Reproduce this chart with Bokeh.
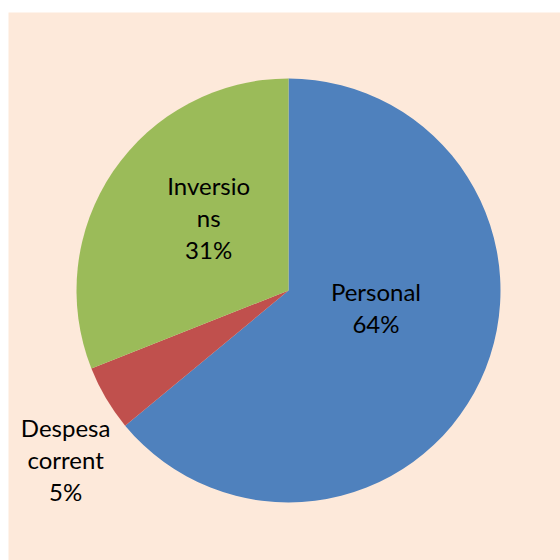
import math
from bokeh.plotting import figure
from bokeh.models import ColumnDataSource, Range1d
from bokeh.embed import file_html
from bokeh.resources import INLINE
from bokeh.core.properties import value

# Data
categories = ["Personal", "Despesa corrent", "Inversions"]
label_texts = ["Personal", "Despesa\ncorrent", "Inversio\nns"]
percents = [64, 5, 31]
colors = ["#4F81BD", "#C0504D", "#9BBB59"]
# label placement (polar: radius fraction, angle in degrees)
label_radius = [0.42, 1.32, 0.51]
label_angle = [-10.9, -142.8, 137.6]

total = sum(percents)
starts, ends = [], []
a = math.pi / 2
for v in percents:
    sweep = 2 * math.pi * v / total
    starts.append(a - sweep)
    ends.append(a)
    a -= sweep

src = ColumnDataSource(dict(start=starts, end=ends, color=colors, cat=categories))

W, H = 560, 560
left_border, top_border = 8, 12
frame_w = W - left_border
frame_h = H - top_border
scale = 212.0
cx_px, cy_px = 280.0, 278.0  # center within frame (from left, from top)

p = figure(width=W, height=H, output_backend="svg", toolbar_location=None,
           x_range=Range1d(-cx_px / scale, (frame_w - cx_px) / scale),
           y_range=Range1d(-(frame_h - cy_px) / scale, cy_px / scale),
           min_border_left=left_border, min_border_right=0, min_border_bottom=0,
           min_border_top=top_border)
p.axis.visible = False
p.grid.visible = False
p.outline_line_color = None
p.background_fill_color = "#FDE9DA"
p.border_fill_color = "white"

p.wedge(x=0, y=0, radius=1, start_angle="start", end_angle="end",
        color="color", line_color=None, source=src)

lx = [r * math.cos(math.radians(t)) for r, t in zip(label_radius, label_angle)]
ly = [r * math.sin(math.radians(t)) for r, t in zip(label_radius, label_angle)]
texts = [f"{l}\n{v}%" for l, v in zip(label_texts, percents)]
p.text(x=lx, y=ly, text=texts, text_align="center", text_baseline="middle",
       text_font=value("Lato"), text_font_size="24px", text_color="black",
       text_line_height=1.1)

open("out.html", "w").write(file_html(p, INLINE))
